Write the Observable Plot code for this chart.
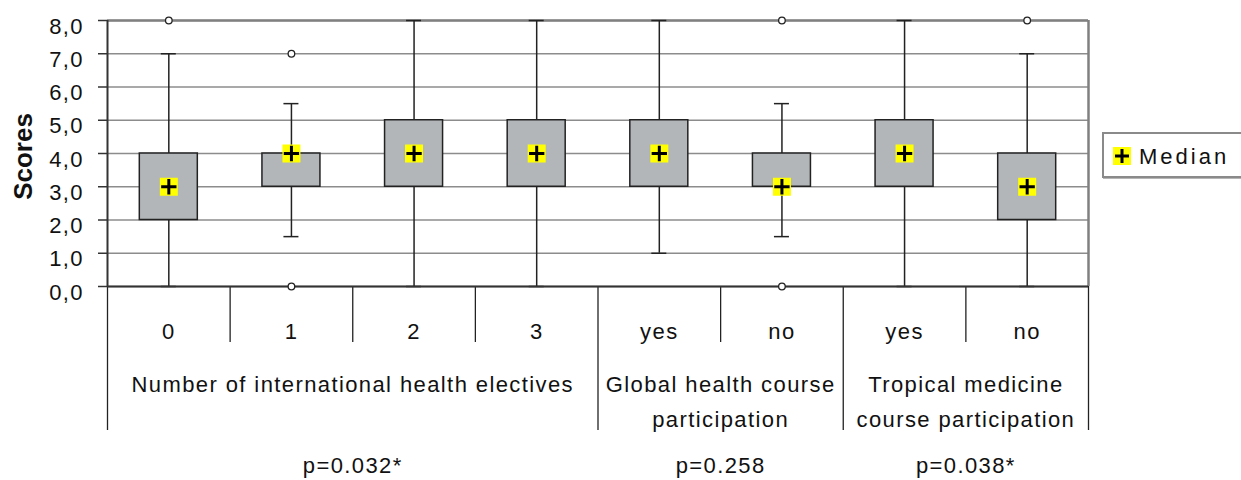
<!DOCTYPE html>
<html>
<head>
<meta charset="utf-8">
<script src="https://cdn.jsdelivr.net/npm/d3@7"></script>
<script src="https://cdn.jsdelivr.net/npm/@observablehq/plot@0.6"></script>
<style>
  body { margin: 0; background: #fff; font-family: "Liberation Sans", Arial, sans-serif; }
  #wrap { position: relative; width: 1241px; height: 480px; overflow: hidden; }
  #wrap svg { letter-spacing: 1.4px; }
  #legend { position: absolute; left: 1102px; top: 132px; width: 160px; height: 46px; box-sizing: border-box;
            border: 2px solid #8a8a8a; box-shadow: 1px 1px 0 #b5b5b5; background: #fff; }
  #legend svg { position: absolute; left: 9px; top: 13px; }
  #legend span { position: absolute; left: 35px; top: 10px; font-size: 22px; letter-spacing: 3px; color: #111; line-height: 26px; }
</style>
</head>
<body>
<div id="wrap">
  <div id="legend">
    <svg width="18" height="18"><rect width="18" height="18" fill="#ffff00"/><path d="M2,9H16M9,2V16" stroke="#000" stroke-width="3"/></svg>
    <span>Median</span>
  </div>
</div>
<script>
// ---- data ----
const categories   = ["0", "1", "2", "3", "yes", "no", "yes", "no"];
const q1           = [2, 3, 3, 3, 3, 3, 3, 2];
const q3           = [4, 4, 5, 5, 5, 4, 5, 4];
const medians      = [3, 4, 4, 4, 4, 3, 4, 3];
const whiskerLow   = [0, 1.5, 0, 0, 1, 1.5, 0, 0];
const whiskerHigh  = [7, 5.5, 8, 8, 8, 5.5, 8, 7];
const outlierCategory = [0, 1, 1, 5, 5, 7];
const outlierValue    = [8, 7, 0, 8, 0, 8];
const groupLabels  = ["Number of international health electives", "Global health course\nparticipation", "Tropical medicine\ncourse participation"];
const groupSize    = [4, 2, 2];
const pValues      = ["p=0.032*", "p=0.258", "p=0.038*"];
const yTicks       = [0, 1, 2, 3, 4, 5, 6, 7, 8];
const yLabel       = "Scores";

// ---- derived tables ----
const boxes = categories.map((c, i) => ({pos: i + 0.5, cat: c, q1: q1[i], q3: q3[i], med: medians[i], lo: whiskerLow[i], hi: whiskerHigh[i]}));
const outliers = outlierCategory.map((c, i) => ({pos: c + 0.5, v: outlierValue[i]}));
const groupEdges = [0], groupCenters = [];
let acc = 0;
groupSize.forEach(n => { groupCenters.push(acc + n / 2); acc += n; groupEdges.push(acc); });
const catEdges = d3.range(0, categories.length + 1).filter(e => !groupEdges.includes(e));
const groups = groupLabels.map((g, i) => ({pos: groupCenters[i], label: g, p: pValues[i]}));
const fmt = d => d.toFixed(1).replace(".", ",");
const n = categories.length;

const dark = "#222";
const chart = Plot.plot({
  width: 1241,
  height: 480,
  marginLeft: 107,
  marginRight: 153,
  marginTop: 20,
  marginBottom: 194,
  x: {domain: [0, n], axis: null},
  y: {domain: [0, 8], axis: null},
  style: {fontFamily: "'Liberation Sans', Arial, sans-serif", fontSize: "22px", color: "#111", background: "#fff", overflow: "visible"},
  marks: [
    // grid
    Plot.ruleY(yTicks, {stroke: "#8c8c8c", strokeWidth: 1.3}),
    // top and right frame
    Plot.ruleY([8], {stroke: "#808080", strokeWidth: 2.5}),
    Plot.ruleX([n], {stroke: "#808080", strokeWidth: 2.5}),
    // y tick marks
    Plot.ruleY(yTicks, {x1: 0, x2: 0, insetLeft: -9, stroke: "#333", strokeWidth: 1.5}),
    // category separators and group separators below the axis
    Plot.ruleX(catEdges, {x: d => d, y1: 0, y2: 0, insetBottom: -56, stroke: dark, strokeWidth: 1.3}),
    Plot.ruleX(groupEdges, {x: d => d, y1: 0, y2: 0, insetBottom: -144, stroke: dark, strokeWidth: 1.3}),
    // whiskers
    Plot.ruleX(boxes, {x: "pos", y1: "lo", y2: "hi", stroke: dark, strokeWidth: 1.5}),
    Plot.ruleY(boxes, {y: "lo", x1: "pos", x2: "pos", insetLeft: -7.5, insetRight: -7.5, stroke: dark, strokeWidth: 1.5}),
    Plot.ruleY(boxes, {y: "hi", x1: "pos", x2: "pos", insetLeft: -7.5, insetRight: -7.5, stroke: dark, strokeWidth: 1.5}),
    // boxes
    Plot.rect(boxes, {x1: "pos", x2: "pos", y1: "q1", y2: "q3", insetLeft: -29, insetRight: -29, fill: "#b3b6b8", stroke: dark, strokeWidth: 1.5}),
    // axis lines
    Plot.ruleY([0], {stroke: "#333", strokeWidth: 2}),
    Plot.ruleX([0], {stroke: "#333", strokeWidth: 2}),
    // outliers
    Plot.dot(outliers, {x: "pos", y: "v", r: 3.3, fill: "#fff", stroke: dark, strokeWidth: 1.3}),
    // medians
    Plot.dot(boxes, {x: "pos", y: "med", symbol: "square", r: 10.16, fill: "#ffff00", stroke: "none"}),
    Plot.dot(boxes, {x: "pos", y: "med", symbol: "plus", r: 5, stroke: "#000", strokeWidth: 3}),
    // y tick labels
    Plot.text(yTicks, {y: d => d, text: fmt, frameAnchor: "left", dx: -23.5, dy: 6, textAnchor: "end", fontSize: 22, fill: "#111"}),
    // y axis label
    Plot.text([yLabel], {text: d => d, frameAnchor: "left", dx: -84, dy: 3, rotate: -90, textAnchor: "middle", lineAnchor: "middle", fontSize: 26, fontWeight: "bold", fill: "#111"}),
    // category labels
    Plot.text(boxes, {x: "pos", text: "cat", frameAnchor: "bottom", dy: 37, lineAnchor: "top", fontSize: 22, fill: "#111"}),
    // group labels
    Plot.text(groups, {x: "pos", text: "label", frameAnchor: "bottom", dy: 81, lineAnchor: "top", lineHeight: 1.58, fontSize: 22, fill: "#111"}),
    // p-values
    Plot.text(groups, {x: "pos", text: "p", frameAnchor: "bottom", dy: 171, lineAnchor: "top", fontSize: 22, fill: "#111"})
  ]
});
d3.select(chart).selectAll("text").filter(function() { return this.textContent === yLabel; }).style("letter-spacing", "0px");
document.getElementById("wrap").prepend(chart);
</script>
</body>
</html>
